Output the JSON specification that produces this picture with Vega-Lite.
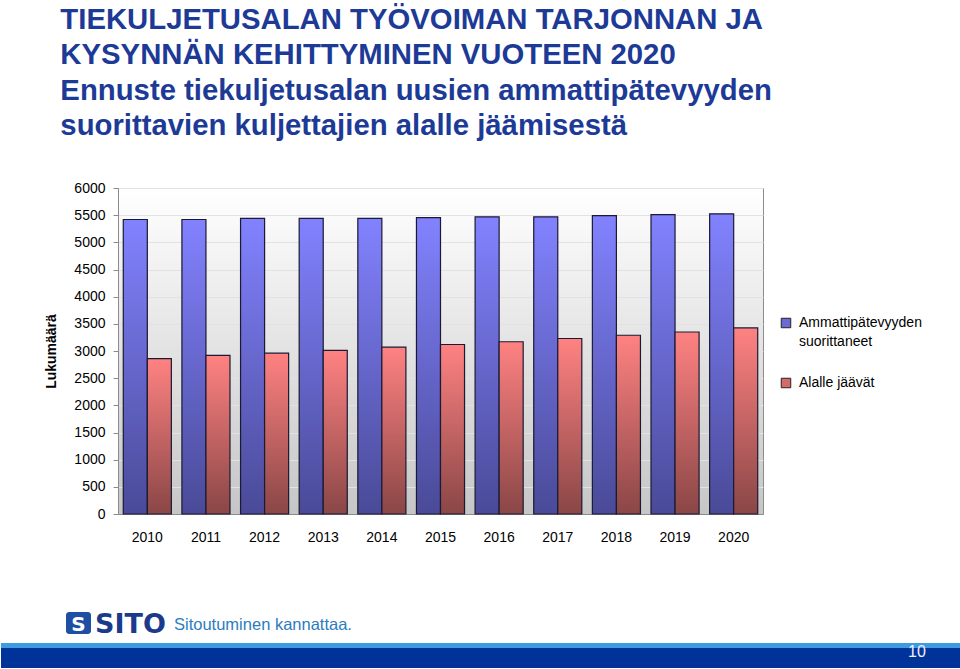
{
  "$schema": "https://vega.github.io/schema/vega-lite/v6.json",
  "padding": {"left": 0, "top": 5, "right": 0, "bottom": 0},
  "background": "white",
  "title": {
    "text": ["TIEKULJETUSALAN TYÖVOIMAN TARJONNAN JA", "KYSYNNÄN KEHITTYMINEN VUOTEEN 2020", "Ennuste tiekuljetusalan uusien ammattipätevyyden", "suorittavien kuljettajien alalle jäämisestä"],
    "anchor": "start",
    "frame": "bounds",
    "dx": 60,
    "fontSize": 29.3,
    "lineHeight": 35.5,
    "font": "Liberation Sans",
    "fontWeight": "bold",
    "color": "#1c3a96",
    "offset": 39
  },
  "config": {"font": "Liberation Sans"},
  "resolve": {"scale": {"x": "independent", "y": "independent", "color": "independent"}},
  "spacing": 54,
  "vconcat": [
    {
      "width": 645,
      "height": 326,
      "view": {
        "fill": {"gradient": "linear", "x1": 0, "y1": 0, "x2": 0, "y2": 1, "stops": [{"offset": 0, "color": "#ffffff"}, {"offset": 1, "color": "#c6c6c6"}]},
        "stroke": "#8c8c8c",
        "strokeWidth": 1
      },
      "data": {
        "values": [
          {"year": "2010", "series": "Ammattipätevyyden suorittaneet", "value": 5420},
          {"year": "2010", "series": "Alalle jäävät", "value": 2860},
          {"year": "2011", "series": "Ammattipätevyyden suorittaneet", "value": 5420},
          {"year": "2011", "series": "Alalle jäävät", "value": 2920},
          {"year": "2012", "series": "Ammattipätevyyden suorittaneet", "value": 5440},
          {"year": "2012", "series": "Alalle jäävät", "value": 2960},
          {"year": "2013", "series": "Ammattipätevyyden suorittaneet", "value": 5440},
          {"year": "2013", "series": "Alalle jäävät", "value": 3010},
          {"year": "2014", "series": "Ammattipätevyyden suorittaneet", "value": 5440},
          {"year": "2014", "series": "Alalle jäävät", "value": 3070},
          {"year": "2015", "series": "Ammattipätevyyden suorittaneet", "value": 5455},
          {"year": "2015", "series": "Alalle jäävät", "value": 3120},
          {"year": "2016", "series": "Ammattipätevyyden suorittaneet", "value": 5470},
          {"year": "2016", "series": "Alalle jäävät", "value": 3170},
          {"year": "2017", "series": "Ammattipätevyyden suorittaneet", "value": 5470},
          {"year": "2017", "series": "Alalle jäävät", "value": 3230},
          {"year": "2018", "series": "Ammattipätevyyden suorittaneet", "value": 5490},
          {"year": "2018", "series": "Alalle jäävät", "value": 3290},
          {"year": "2019", "series": "Ammattipätevyyden suorittaneet", "value": 5510},
          {"year": "2019", "series": "Alalle jäävät", "value": 3350},
          {"year": "2020", "series": "Ammattipätevyyden suorittaneet", "value": 5525},
          {"year": "2020", "series": "Alalle jäävät", "value": 3425}
        ]
      },
      "encoding": {
        "x": {
          "field": "year", "type": "ordinal",
          "scale": {"paddingInner": 0.18, "paddingOuter": 0.09},
          "axis": {"title": null, "labelAngle": 0, "labelFontSize": 14, "labelColor": "#000000", "ticks": false, "labelPadding": 16, "domainColor": "#8c8c8c", "grid": false}
        },
        "xOffset": {
          "field": "series", "type": "nominal",
          "sort": ["Ammattipätevyyden suorittaneet", "Alalle jäävät"],
          "scale": {"domain": ["Ammattipätevyyden suorittaneet", "Alalle jäävät"], "paddingInner": 0, "paddingOuter": 0}
        },
        "y": {
          "field": "value", "type": "quantitative",
          "scale": {"domain": [0, 6000], "nice": false},
          "axis": {
            "values": [0, 500, 1000, 1500, 2000, 2500, 3000, 3500, 4000, 4500, 5000, 5500, 6000],
            "format": "d",
            "title": ["", "Lukumäärä"], "titleLineHeight": 44, "titleFontSize": 14, "titleFontWeight": "bold", "titleColor": "#000000",
            "labelFontSize": 14, "labelColor": "#000000", "tickSize": 5, "tickColor": "#8c8c8c",
            "domainColor": "#8c8c8c", "gridColor": "#e2e2e2", "labelPadding": 8, "titlePadding": 15
          }
        }
      },
      "layer": [
        {
          "transform": [{"filter": "datum.series == 'Ammattipätevyyden suorittaneet'"}],
          "mark": {
            "type": "bar", "stroke": "#1a1a33", "strokeWidth": 1.2,
            "fill": {"gradient": "linear", "x1": 0, "y1": 0, "x2": 0, "y2": 1, "stops": [{"offset": 0, "color": "#8282ff"}, {"offset": 1, "color": "#4a4a98"}]}
          }
        },
        {
          "transform": [{"filter": "datum.series == 'Alalle jäävät'"}],
          "mark": {
            "type": "bar", "stroke": "#1a1a33", "strokeWidth": 1.2,
            "fill": {"gradient": "linear", "x1": 0, "y1": 0, "x2": 0, "y2": 1, "stops": [{"offset": 0, "color": "#ff8282"}, {"offset": 1, "color": "#8a4646"}]}
          }
        },
        {
          "mark": {"type": "square", "opacity": 0, "size": 10},
          "encoding": {
            "color": {
              "field": "series", "type": "nominal",
              "scale": {"domain": ["Ammattipätevyyden suorittaneet", "Alalle jäävät"], "range": ["#6a6ad2", "#d46a6a"]},
              "legend": {
                "title": null, "orient": "none", "legendX": 661, "legendY": 128,
                "labelFontSize": 14, "labelColor": "#000000", "labelLimit": 0, "labelOffset": 6,
                "symbolType": "square", "symbolSize": 90, "symbolOpacity": 1, "symbolStrokeColor": "#222222", "symbolStrokeWidth": 1,
                "labelExpr": "datum.label == 'Ammattipätevyyden suorittaneet' ? ['Ammattipätevyyden', 'suorittaneet'] : datum.label",
                "labelBaseline": "top", "rowPadding": 27,
                "encode": {"labels": {"update": {"lineHeight": {"value": 19}, "dy": {"value": -7}}}}
              }
            }
          }
        }
      ]
    },
    {
      "width": 843,
      "height": 69,
      "view": {"stroke": null},
      "data": {"values": [{}]},
      "layer": [
        {
          "mark": {"type": "rect", "color": "#003399", "clip": false},
          "encoding": {
            "x": {"datum": 0, "type": "quantitative", "scale": {"domain": [117, 960], "nice": false, "zero": false}, "axis": null},
            "x2": {"datum": 960},
            "y": {"datum": 0, "type": "quantitative", "scale": {"domain": [0, 69], "nice": false}, "axis": null},
            "y2": {"datum": 20}
          }
        },
        {
          "mark": {"type": "rect", "color": "#3d9be0"},
          "encoding": {
            "x": {"datum": 0, "type": "quantitative"},
            "x2": {"datum": 960},
            "y": {"datum": 20, "type": "quantitative"},
            "y2": {"datum": 25}
          }
        },
        {
          "mark": {"type": "rect", "color": "#1f4fa3", "cornerRadius": 3},
          "encoding": {
            "x": {"datum": 65, "type": "quantitative"},
            "x2": {"datum": 90},
            "y": {"datum": 34, "type": "quantitative"},
            "y2": {"datum": 56}
          }
        },
        {
          "mark": {"type": "text", "text": "S", "color": "white", "font": "DejaVu Sans", "fontWeight": "bold", "fontSize": 20, "align": "center", "baseline": "alphabetic"},
          "encoding": {
            "x": {"datum": 77.5, "type": "quantitative"},
            "y": {"datum": 37, "type": "quantitative"}
          }
        },
        {
          "mark": {"type": "text", "text": "SITO", "color": "#1a3a8c", "font": "DejaVu Sans", "fontWeight": "bold", "fontSize": 27, "align": "left", "baseline": "alphabetic"},
          "encoding": {
            "x": {"datum": 94, "type": "quantitative"},
            "y": {"datum": 35, "type": "quantitative"}
          }
        },
        {
          "mark": {"type": "text", "text": "Sitoutuminen kannattaa.", "color": "#2b7cc0", "font": "Liberation Sans", "fontSize": 16.5, "align": "left", "baseline": "alphabetic"},
          "encoding": {
            "x": {"datum": 173, "type": "quantitative"},
            "y": {"datum": 38, "type": "quantitative"}
          }
        },
        {
          "mark": {"type": "text", "text": "10", "color": "#f0f0ff", "font": "Liberation Sans", "fontSize": 16, "align": "center", "baseline": "alphabetic"},
          "encoding": {
            "x": {"datum": 916, "type": "quantitative"},
            "y": {"datum": 11, "type": "quantitative"}
          }
        }
      ]
    }
  ]
}
